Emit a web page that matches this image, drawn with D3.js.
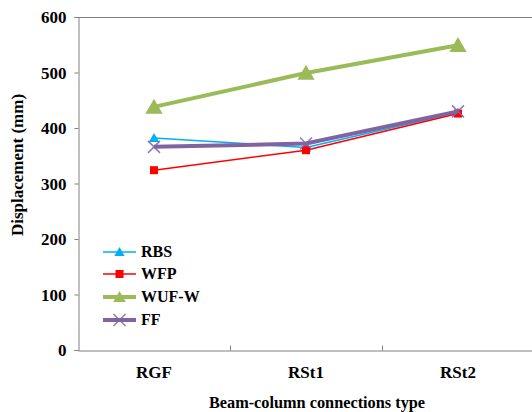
<!DOCTYPE html>
<html>
<head>
<meta charset="utf-8">
<script src="https://cdn.jsdelivr.net/npm/d3@7"></script>
<style>
  html, body { margin: 0; padding: 0; background: #fff; }
  svg { display: block; }
  svg text { font-family: 'Times New Roman', 'Liberation Serif', 'DejaVu Serif', serif !important; font-weight: 700; fill: #000; }
</style>
</head>
<body>
<svg id="chart" width="532" height="412"></svg>
<script>
// Connection types along the x axis
const categories = ["RGF", "RSt1", "RSt2"];
// Displacement (mm) per series
const seriesNames = ["RBS", "WFP", "WUF-W", "FF"];
const rbsValues = [382, 365, 428];
const wfpValues = [324, 360, 426];
const wufwValues = [438, 499, 549];
const ffValues = [366, 372, 430];
const yTicks = [0, 100, 200, 300, 400, 500, 600];
const xTitle = "Beam-column connections type";
const yTitle = "Displacement (mm)";

const seriesStyle = [
  { name: seriesNames[0], values: rbsValues, color: "#00B0F0", width: 1.6, marker: "triangle", size: 9 },
  { name: seriesNames[1], values: wfpValues, color: "#FF0000", width: 1.6, marker: "square", size: 8 },
  { name: seriesNames[2], values: wufwValues, color: "#9BBB59", width: 4, marker: "triangle", size: 15 },
  { name: seriesNames[3], values: ffValues, color: "#8064A2", width: 4, marker: "x", size: 12 }
];

const svg = d3.select("#chart");
const plotLeft = 78, plotRight = 534, plotTop = 17, plotBottom = 350;

const x = d3.scaleBand().domain(categories).range([plotLeft, plotRight]).paddingInner(0).paddingOuter(0);
const y = d3.scaleLinear().domain([0, 600]).range([plotBottom, plotTop]);

// Plot frame (top edge)
svg.append("line")
  .attr("x1", plotLeft).attr("x2", plotRight).attr("y1", plotTop + 0.5).attr("y2", plotTop + 0.5)
  .attr("stroke", "#808080").attr("stroke-width", 1);

// Y axis
const yAxis = svg.append("g")
  .attr("transform", `translate(${plotLeft + 0.5},0)`)
  .call(d3.axisLeft(y).tickValues(yTicks).tickSize(4).tickPadding(8).tickFormat(d3.format("d")));
yAxis.attr("font-family", null);
yAxis.select(".domain").attr("stroke", "#808080");
yAxis.selectAll(".tick line").attr("stroke", "#808080");
yAxis.selectAll(".tick text").attr("font-size", 17).attr("dy", "0.34em");

// X axis
const xAxis = svg.append("g")
  .attr("transform", `translate(0,${plotBottom + 0.5})`)
  .call(d3.axisBottom(x).tickSize(0).tickPadding(15));
xAxis.attr("font-family", null);
xAxis.select(".domain").attr("stroke", "#808080");
xAxis.selectAll(".tick text").attr("font-size", 17);
// Category separators, pointing inward
xAxis.selectAll(".sep")
  .data(categories.slice(1))
  .join("line")
  .attr("class", "sep")
  .attr("x1", d => x(d) + 0.5).attr("x2", d => x(d) + 0.5)
  .attr("y1", 0).attr("y2", -5)
  .attr("stroke", "#808080");

// Axis titles
svg.append("text")
  .attr("x", 317).attr("y", 408)
  .attr("text-anchor", "middle").attr("font-size", 16.3)
  .text(xTitle);
svg.append("text")
  .attr("transform", "translate(23,165) rotate(-90)")
  .attr("text-anchor", "middle").attr("font-size", 17)
  .text(yTitle);

const cx = d => x(d) + x.bandwidth() / 2;

function drawMarker(g, s, px, py) {
  if (s.marker === "triangle") {
    const h = s.size, w = s.size * 1.15;
    g.append("path")
      .attr("d", `M${px},${py - h * 0.55}L${px + w / 2},${py + h * 0.45}L${px - w / 2},${py + h * 0.45}Z`)
      .attr("fill", s.color);
  } else if (s.marker === "square") {
    g.append("rect")
      .attr("x", px - s.size / 2).attr("y", py - s.size / 2)
      .attr("width", s.size).attr("height", s.size)
      .attr("fill", s.color);
  } else {
    const r = s.size / 2;
    g.append("path")
      .attr("d", `M${px - r},${py - r}L${px + r},${py + r}M${px - r},${py + r}L${px + r},${py - r}`)
      .attr("stroke", s.color).attr("stroke-width", 1.5).attr("fill", "none").attr("opacity", 0.85);
  }
}

const line = d3.line().x((d, i) => cx(categories[i])).y(d => y(d));

seriesStyle.forEach(s => {
  const g = svg.append("g");
  g.append("path")
    .datum(s.values)
    .attr("d", line)
    .attr("fill", "none")
    .attr("stroke", s.color)
    .attr("stroke-width", s.width)
    .attr("stroke-linejoin", "round");
  s.values.forEach((v, i) => drawMarker(g, s, cx(categories[i]), y(v)));
});

// Legend
const legendY = [252, 274, 297, 320];
seriesStyle.forEach((s, i) => {
  const g = svg.append("g");
  const ly = legendY[i];
  g.append("line")
    .attr("x1", 103).attr("x2", 136).attr("y1", ly).attr("y2", ly)
    .attr("stroke", s.color).attr("stroke-width", s.width);
  drawMarker(g, s.marker === "triangle" && s.size > 10 ? Object.assign({}, s, { size: 11 }) : s, 119.5, ly);
  g.append("text")
    .attr("x", 141).attr("y", ly).attr("dy", "0.34em")
    .attr("font-size", 16)
    .text(s.name);
});
</script>
</body>
</html>
